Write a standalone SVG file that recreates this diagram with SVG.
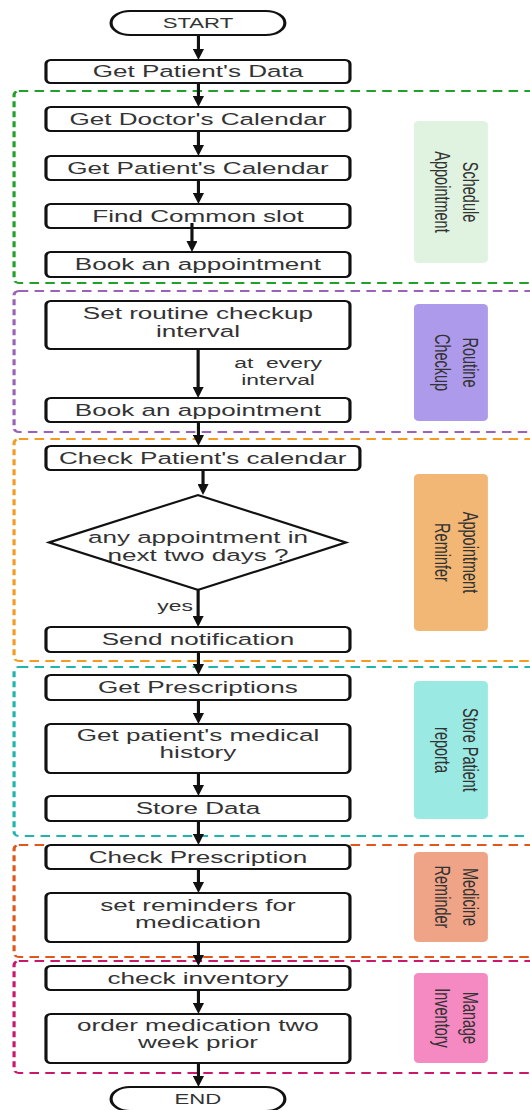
<svg xmlns="http://www.w3.org/2000/svg" width="530" height="1110" viewBox="0 0 530 1110">
<defs>
<style>
.nd{fill:#fff;stroke:#111;stroke-width:2}
.tx{font-family:"Liberation Sans",Arial,sans-serif;font-size:16.5px;fill:#333;text-anchor:middle}
.st{font-size:14px}
.sm{font-size:14.5px}
.lb{font-family:"Liberation Sans",Arial,sans-serif;font-size:14.5px;fill:#333;text-anchor:middle}
.ct{fill:none;stroke-width:2;stroke-dasharray:6 4}
.ln{fill:none;stroke:#111;stroke-width:2}
</style>
<marker id="ah" markerUnits="userSpaceOnUse" viewBox="0 0 11 7" markerWidth="11" markerHeight="7" refX="2" refY="3.5" orient="auto">
<path d="M0,0 L11,3.5 L0,7 z" fill="#111"/>
</marker>
</defs>
<rect width="530" height="1110" fill="#fff"/>
<g transform="scale(1.58,1)">
<g id="containers">
<rect class="ct" x="8.9" y="91" width="340" height="192" rx="3" ry="4" stroke="#22a02a"/>
<rect class="ct" x="8.9" y="291" width="340" height="141" rx="3" ry="4" stroke="#9c62b8"/>
<rect class="ct" x="8.9" y="439" width="340" height="222" rx="3" ry="4" stroke="#f59a23"/>
<rect class="ct" x="8.9" y="667" width="340" height="169" rx="3" ry="4" stroke="#1fb5ad"/>
<rect class="ct" x="8.9" y="845" width="340" height="112" rx="3" ry="4" stroke="#e0561b"/>
<rect class="ct" x="8.9" y="961" width="340" height="112" rx="3" ry="4" stroke="#c8186d"/>
</g>
<g id="lane-schedule">
<rect x="262" y="121" width="46.8" height="142" rx="3" ry="4" fill="#dff3e0"/>
<text class="lb" transform="translate(293,192) rotate(90)">Schedule</text>
<text class="lb" transform="translate(275.3,192) rotate(90)">Appointment</text>
</g>
<g id="lane-routine">
<rect x="262" y="304" width="46.8" height="117" rx="3" ry="4" fill="#ad9aea"/>
<text class="lb" transform="translate(293,362.5) rotate(90)">Routine</text>
<text class="lb" transform="translate(275.3,362.5) rotate(90)">Checkup</text>
</g>
<g id="lane-reminder">
<rect x="262" y="474" width="46.8" height="157" rx="3" ry="4" fill="#f2b774"/>
<text class="lb" transform="translate(293,552.5) rotate(90)">Appointment</text>
<text class="lb" transform="translate(275.3,552.5) rotate(90)">Reminfer</text>
</g>
<g id="lane-store">
<rect x="262" y="681" width="46.8" height="138" rx="3" ry="4" fill="#9be9e3"/>
<text class="lb" transform="translate(293,750) rotate(90)">Store Patient</text>
<text class="lb" transform="translate(275.3,750) rotate(90)">reporta</text>
</g>
<g id="lane-medicine">
<rect x="262" y="852" width="46.8" height="90" rx="3" ry="4" fill="#f0a487"/>
<text class="lb" transform="translate(293,897) rotate(90)">Medicine</text>
<text class="lb" transform="translate(275.3,897) rotate(90)">Reminder</text>
</g>
<g id="lane-inventory">
<rect x="262" y="973" width="46.8" height="90" rx="3" ry="4" fill="#f589c1"/>
<text class="lb" transform="translate(293,1018) rotate(90)">Manage</text>
<text class="lb" transform="translate(275.3,1018) rotate(90)">Inventory</text>
</g>
<g id="start"><rect class="nd" x="70.3" y="11" width="110" height="24" rx="12" ry="12"/><text class="tx st" x="125.3" y="28">START</text></g>
<g id="n1"><rect class="nd" x="29.1" y="60" width="192.4" height="23" rx="3" ry="4"/><text class="tx" x="125.3" y="77.5">Get Patient's Data</text></g>
<g id="n2"><rect class="nd" x="29.1" y="107" width="192.4" height="24" rx="3" ry="4"/><text class="tx" x="125.3" y="125">Get Doctor's Calendar</text></g>
<g id="n3"><rect class="nd" x="29.1" y="156" width="192.4" height="24" rx="3" ry="4"/><text class="tx" x="125.3" y="174">Get Patient's Calendar</text></g>
<g id="n4"><rect class="nd" x="29.1" y="204" width="192.4" height="24" rx="3" ry="4"/><text class="tx" x="125.3" y="222">Find Common slot</text></g>
<g id="n5"><rect class="nd" x="29.1" y="252" width="192.4" height="25" rx="3" ry="4"/><text class="tx" x="125.3" y="270.5">Book an appointment</text></g>
<g id="n6"><rect class="nd" x="29.1" y="301" width="192.4" height="48" rx="3" ry="4"/><text class="tx" x="125.3" y="319">Set routine checkup</text><text class="tx" x="125.3" y="337">interval</text></g>
<g id="n7"><rect class="nd" x="29.1" y="398" width="192.4" height="24" rx="3" ry="4"/><text class="tx" x="125.3" y="416">Book an appointment</text></g>
<g id="n8"><rect class="nd" x="29.1" y="446" width="198.7" height="24" rx="3" ry="4"/><text class="tx" x="128.3" y="464">Check Patient's calendar</text></g>
<g id="n9"><path class="nd" d="M31,542.5 L125.3,495 L219,542.5 L125.3,590 Z"/><text class="tx" x="125.3" y="543">any appointment in</text><text class="tx" x="125.3" y="561">next two days ?</text></g>
<g id="n10"><rect class="nd" x="29.1" y="627" width="192.4" height="25" rx="3" ry="4"/><text class="tx" x="125.3" y="645.5">Send notification</text></g>
<g id="n11"><rect class="nd" x="29.1" y="675" width="192.4" height="25" rx="3" ry="4"/><text class="tx" x="125.3" y="693.5">Get Prescriptions</text></g>
<g id="n12"><rect class="nd" x="29.1" y="724" width="192.4" height="49" rx="3" ry="4"/><text class="tx" x="125.3" y="741">Get patient's medical</text><text class="tx" x="125.3" y="758">history</text></g>
<g id="n13"><rect class="nd" x="29.1" y="796" width="192.4" height="25" rx="3" ry="4"/><text class="tx" x="125.3" y="814.5">Store Data</text></g>
<g id="n14"><rect class="nd" x="29.1" y="845" width="192.4" height="24" rx="3" ry="4"/><text class="tx" x="125.3" y="863">Check Prescription</text></g>
<g id="n15"><rect class="nd" x="29.1" y="893" width="192.4" height="49" rx="3" ry="4"/><text class="tx" x="125.3" y="911">set reminders for</text><text class="tx" x="125.3" y="928">medication</text></g>
<g id="n16"><rect class="nd" x="29.1" y="966" width="192.4" height="24" rx="3" ry="4"/><text class="tx" x="125.3" y="984">check inventory</text></g>
<g id="n17"><rect class="nd" x="29.1" y="1014" width="192.4" height="49" rx="3" ry="4"/><text class="tx" x="125.3" y="1031">order medication two</text><text class="tx" x="125.3" y="1048">week prior</text></g>
<g id="end"><rect class="nd" x="70.3" y="1087" width="110" height="24" rx="12" ry="12"/><text class="tx st" x="125.3" y="1104">END</text></g>
<g id="connectors">
<path class="ln" marker-end="url(#ah)" d="M125.6,35 V51"/>
<path class="ln" marker-end="url(#ah)" d="M125.6,83 V98"/>
<path class="ln" marker-end="url(#ah)" d="M125.6,131 V147"/>
<path class="ln" marker-end="url(#ah)" d="M125.6,180 V195"/>
<path class="ln" marker-end="url(#ah)" d="M121.5,223 V243"/>
<path class="ln" marker-end="url(#ah)" d="M125.4,349 V389"/>
<path class="ln" marker-end="url(#ah)" d="M125.6,422 V437"/>
<path class="ln" marker-end="url(#ah)" d="M128.5,470 V486"/>
<path class="ln" marker-end="url(#ah)" d="M125.4,590 V618"/>
<path class="ln" marker-end="url(#ah)" d="M125.6,652 V666"/>
<path class="ln" marker-end="url(#ah)" d="M125.6,700 V715"/>
<path class="ln" marker-end="url(#ah)" d="M125.6,773 V787"/>
<path class="ln" marker-end="url(#ah)" d="M125.6,821 V836"/>
<path class="ln" marker-end="url(#ah)" d="M125.6,869 V884"/>
<path class="ln" marker-end="url(#ah)" d="M125.6,942 V957"/>
<path class="ln" marker-end="url(#ah)" d="M125.6,990 V1005"/>
<path class="ln" marker-end="url(#ah)" d="M125.6,1063 V1078"/>
<text class="tx sm" x="176" y="368" style="white-space:pre">at  every</text>
<text class="tx sm" x="176" y="385">interval</text>
<text class="tx sm" x="110.8" y="611">yes</text>
</g>
</g>
</svg>
